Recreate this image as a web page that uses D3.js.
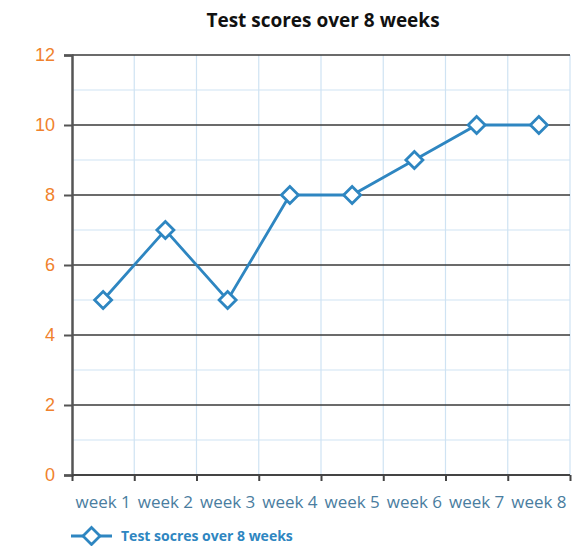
<!DOCTYPE html>
<html>
<head>
<meta charset="utf-8">
<script src="https://cdn.jsdelivr.net/npm/d3@7"></script>
<style>
  body { margin: 0; background: #fff; }
  svg { font-family: "Open Sans", "Noto Sans", sans-serif; }
</style>
</head>
<body>
<svg id="chartsvg" width="583" height="546"></svg>
<script>
var vis = d3.select("#chartsvg");
let weeks = ["week 1", "week 2", "week 3", "week 4", "week 5", "week 6", "week 7", "week 8"];
let scores = [5, 7, 5, 8, 8, 9, 10, 10];
let majorTicks = [0, 2, 4, 6, 8, 10, 12];
let minorTicks = [1, 3, 5, 7, 9, 11];
const seriesName = "Test socres over 8 weeks";
const lineColor = "#2e86c1";

const margin = {left: 72, right: 13, top: 55, bottom: 71};
const width = 583 - margin.left - margin.right;
const height = 546 - margin.top - margin.bottom;

var xScale = d3.scaleBand().domain(weeks).range([0, width]);
var yScale = d3.scaleLinear().domain([0, 12]).range([height, 0]);

vis.append("text")
    .attr("x", 323).attr("y", 27)
    .attr("text-anchor", "middle")
    .attr("font-weight", "bold")
    .attr("font-size", 19)
    .attr("fill", "#111")
    .text("Test scores over 8 weeks");

var g = vis.append("g").attr("transform", `translate(${margin.left},${margin.top})`);

// light grid
g.selectAll(".minor").data(minorTicks).enter().append("line")
    .attr("x1", 0).attr("x2", width)
    .attr("y1", d => yScale(d)).attr("y2", d => yScale(d))
    .attr("stroke", "#cfe3f3").attr("stroke-width", 1.2);

var xEdges = weeks.map(w => xScale(w) + xScale.bandwidth());
g.selectAll(".vgrid").data(xEdges).enter().append("line")
    .attr("x1", d => d).attr("x2", d => d)
    .attr("y1", 0).attr("y2", height)
    .attr("stroke", "#cfe3f3").attr("stroke-width", 1.2);

// major horizontal lines
g.selectAll(".major").data(majorTicks.filter(d => d > 0)).enter().append("line")
    .attr("x1", 0).attr("x2", width)
    .attr("y1", d => yScale(d)).attr("y2", d => yScale(d))
    .attr("stroke", "#3a3a3a").attr("stroke-width", 1.5);

// y axis
var yAxis = d3.axisLeft(yScale).tickValues(majorTicks).tickSize(8).tickPadding(9);
var yg = g.append("g").call(yAxis);
yg.select(".domain").attr("stroke", "#555").attr("stroke-width", 2.5);
yg.selectAll(".tick line").attr("stroke", "#555").attr("stroke-width", 2);
yg.selectAll(".tick text").attr("fill", "#f0822d").attr("font-size", 18);

// x axis
var xAxis = d3.axisBottom(d3.scaleLinear().domain([0, weeks.length]).range([0, width]))
    .tickValues(d3.range(weeks.length + 1)).tickSize(6).tickFormat("");
var xg = g.append("g").attr("transform", `translate(0,${height})`).call(xAxis);
xg.select(".domain").attr("stroke", "#444").attr("stroke-width", 2).attr("d", `M0,0H${width}`);
xg.selectAll(".tick line").attr("stroke", "#444").attr("stroke-width", 2);

g.selectAll(".xlabel").data(weeks).enter().append("text")
    .attr("x", d => xScale(d) + xScale.bandwidth() / 2)
    .attr("y", height + 33)
    .attr("text-anchor", "middle")
    .attr("font-size", 17)
    .attr("fill", "#4a7da0")
    .text(d => d);

// series
var line = d3.line()
    .x((d, i) => xScale(weeks[i]) + xScale.bandwidth() / 2)
    .y(d => yScale(d));

g.append("path").datum(scores)
    .attr("d", line)
    .attr("fill", "none")
    .attr("stroke", lineColor)
    .attr("stroke-width", 2.8);

var diamond = "M0,-8.5L8.5,0L0,8.5L-8.5,0Z";
g.selectAll(".pt").data(scores).enter().append("path")
    .attr("d", diamond)
    .attr("transform", (d, i) => `translate(${xScale(weeks[i]) + xScale.bandwidth() / 2},${yScale(d)})`)
    .attr("fill", "#fff")
    .attr("stroke", lineColor)
    .attr("stroke-width", 2.8);

// legend
var lg = vis.append("g").attr("transform", "translate(71,536)");
lg.append("line").attr("x1", 0).attr("x2", 41).attr("y1", 0).attr("y2", 0)
    .attr("stroke", lineColor).attr("stroke-width", 2.8);
lg.append("path").attr("d", diamond).attr("transform", "translate(20.5,0)")
    .attr("fill", "#fff").attr("stroke", lineColor).attr("stroke-width", 2.8);
lg.append("text").attr("x", 50).attr("y", 5)
    .attr("font-size", 14).attr("font-weight", "bold")
    .attr("fill", lineColor)
    .text(seriesName);
</script>
</body>
</html>
